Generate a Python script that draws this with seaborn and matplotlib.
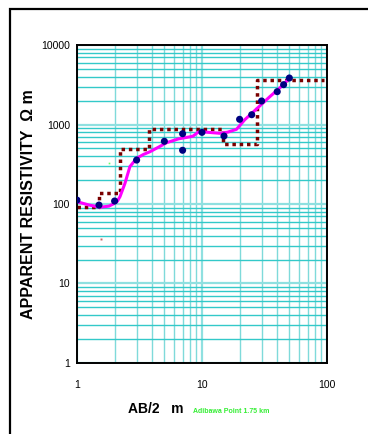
import numpy as np
import pandas as pd
import matplotlib.pyplot as plt
import seaborn as sns
from matplotlib.patches import Rectangle
from matplotlib.ticker import LogLocator, FixedLocator, NullFormatter

plt.switch_backend("agg")

# measured apparent resistivity (AB/2 in m, rho in ohm m)
ab2 = [1, 1.5, 2, 3, 5, 7, 7, 10, 15, 20, 25, 30, 40, 45, 50]
rho = [112, 97, 109, 357, 615, 766, 474, 797, 717, 1162, 1328, 1976, 2590, 3170, 3846]

# smoothed field curve
curve_x = [1, 1.25, 1.53, 1.8, 1.95, 2.1, 2.21, 2.42, 2.65, 3.0, 3.4, 3.84, 4.5, 5.2, 6.5, 8.0,
           8.5, 9.3, 10, 12, 13.9, 16, 18.9, 22, 25, 30, 35, 40, 45, 50]
curve_y = [107, 97, 91, 94, 100, 108, 124, 182, 295, 376, 420, 455, 520, 590, 660, 700,
           716, 800, 810, 790, 775, 800, 870, 1150, 1380, 1800, 2250, 2700, 3200, 3846]

# layered model (step)
model_x = [1, 1.5, 2.2, 3.8, 14.6, 27.4, 95]
model_y = [92, 139, 488, 885, 564, 3660, 3660]

meas = pd.DataFrame({"ab2": ab2, "rho": rho})
curve = pd.DataFrame({"ab2": curve_x, "rho": curve_y})
model = pd.DataFrame({"ab2": model_x, "rho": model_y})

sns.set_style("white")
plt.rcParams["font.family"] = ["Liberation Sans", "DejaVu Sans"]

fig = plt.figure(figsize=(3.68, 4.34), dpi=100)
ax = fig.add_axes([0.2092, 0.1636, 0.6793, 0.7327])

ax.set_xscale("log")
ax.set_yscale("log")
ax.set_xlim(1, 100)
ax.set_ylim(1, 10000)

# grid
ax.xaxis.set_minor_locator(LogLocator(base=10, subs=np.arange(2, 10)))
ax.yaxis.set_minor_locator(LogLocator(base=10, subs=np.arange(2, 10)))
ax.xaxis.set_minor_formatter(NullFormatter())
ax.yaxis.set_minor_formatter(NullFormatter())
ax.grid(True, which="major", axis="both", color="#8fe0e0", lw=1.6)
ax.grid(True, which="minor", axis="y", color="#33c9c9", lw=1.0)
ax.grid(True, which="minor", axis="x", color="#7fdada", lw=1.0)
ax.set_axisbelow(True)

sns.lineplot(data=model, x="ab2", y="rho", ax=ax, drawstyle="steps-post",
             color="#7a0000", lw=2.5, linestyle=(0, (1, 1.1)), sort=False)
sns.lineplot(data=curve, x="ab2", y="rho", ax=ax, color="#ff00ff", lw=2.2, sort=False)
sns.scatterplot(data=meas, x="ab2", y="rho", ax=ax, color="#000080", s=26,
                edgecolor="none", zorder=5)

# stray marks
ax.plot([1.79], [330], marker="s", ms=1.2, color="#66ff66", mec="none")
ax.plot([1.55], [36], marker="s", ms=1.4, color="#cc6666", mec="none")

ax.xaxis.set_major_locator(FixedLocator([1, 10, 100]))
ax.yaxis.set_major_locator(FixedLocator([1, 10, 100, 1000, 10000]))
ax.set_xticklabels(["1", "10", "100"])
ax.set_yticklabels(["1", "10", "100", "1000", "10000"])
ax.tick_params(axis="both", which="major", direction="out", length=3, width=1,
               labelsize=7.5, colors="black", pad=2)
ax.tick_params(axis="x", which="major", pad=9)
ax.tick_params(which="minor", length=0)
for s in ax.spines.values():
    s.set_color("black")
    s.set_linewidth(1.4)
ax.set_xlabel("")
ax.set_ylabel("")

fig.text(0.077, 0.53, "APPARENT RESISTIVITY  \u03a9 m", rotation=90, ha="center",
         va="center", fontsize=11.5, fontweight="bold", color="black")
fig.text(0.423, 0.057, "AB/2   m", ha="center", va="center", fontsize=10,
         fontweight="bold", color="black")
fig.text(0.525, 0.051, "Adibawa Point 1.75 km", ha="left", va="center", fontsize=5,
         fontweight="bold", color="#33ee33")

# outer frame
fig.patches.append(Rectangle((0.028, -0.2), 1.2, 1.179, transform=fig.transFigure,
                             fill=False, edgecolor="black", lw=1.6))

fig.savefig("out.png", dpi=100)
